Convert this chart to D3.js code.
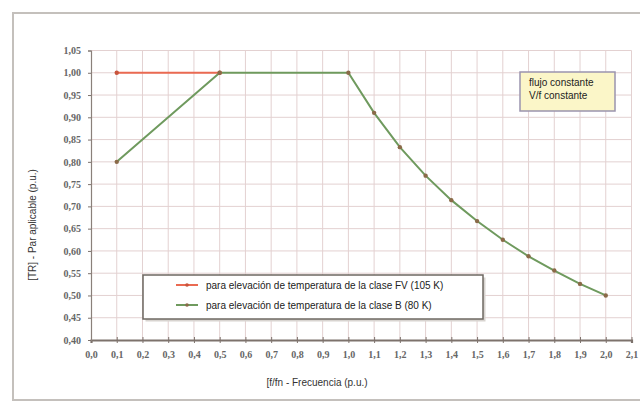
<!DOCTYPE html>
<html><head><meta charset="utf-8">
<script src="https://cdn.jsdelivr.net/npm/d3@7"></script>
<style>body{margin:0;background:#fff}svg{display:block}</style>
</head><body>
<svg id="c" width="640" height="403"></svg>
<script>
const xTicks = [0.0,0.1,0.2,0.3,0.4,0.5,0.6,0.7,0.8,0.9,1.0,1.1,1.2,1.3,1.4,1.5,1.6,1.7,1.8,1.9,2.0,2.1];
const yTicks = [0.40,0.45,0.50,0.55,0.60,0.65,0.70,0.75,0.80,0.85,0.90,0.95,1.00,1.05];
const freqFV = [0.1, 0.5];
const torqueFV = [1.00, 1.00];
const freqB = [0.1, 0.5, 1.0, 1.1, 1.2, 1.3, 1.4, 1.5, 1.6, 1.7, 1.8, 1.9, 2.0];
const torqueB = [0.80, 1.00, 1.00, 0.91, 0.833, 0.769, 0.714, 0.667, 0.625, 0.588, 0.556, 0.526, 0.50];
const seriesNames = ["para elevación de temperatura de la clase FV (105 K)", "para elevación de temperatura de la clase B (80 K)"];
const noteLines = ["flujo constante", "V/f constante"];
const xTitle = "[f/fn - Frecuencia (p.u.)";
const yTitle = "[TR] - Par aplicable (p.u.)";

const svg = d3.select("#c");
const colRed = "#ea6a52", colGreen = "#6f9a5e", colDot = "#8a6a48";

// outer frame
svg.append("rect").attr("x",13).attr("y",13).attr("width",640).attr("height",387)
  .attr("fill","#fff").attr("stroke","#c4c0bc").attr("stroke-width",2);

const x = d3.scaleLinear().domain([0,2.1]).range([91,631.5]);
const y = d3.scaleLinear().domain([0.40,1.05]).range([340,50.5]);

const fmt = d => d3.format(".1f")(d).replace(".", ",");
const fmtY = d => d3.format(".2f")(d).replace(".", ",");

// grid
const g = svg.append("g");
g.selectAll("line.v").data(xTicks.slice(1)).join("line")
  .attr("x1",d=>x(d)).attr("x2",d=>x(d)).attr("y1",y(0.40)).attr("y2",y(1.05))
  .attr("stroke","#e3d1d1").attr("stroke-width",1);
g.selectAll("line.h").data(yTicks.slice(1)).join("line")
  .attr("y1",d=>y(d)).attr("y2",d=>y(d)).attr("x1",x(0)).attr("x2",x(2.1))
  .attr("stroke","#e3d1d1").attr("stroke-width",1);

// axes
const xAxis = svg.append("g").attr("transform",`translate(0,${y(0.40)})`)
  .call(d3.axisBottom(x).tickValues(xTicks).tickFormat(fmt).tickSize(3).tickPadding(8));
xAxis.select(".domain").attr("stroke","#7d726c").attr("stroke-width",2.2);
xAxis.selectAll(".tick line").attr("stroke","#7d726c").attr("y1",-3).attr("y2",3);
xAxis.selectAll("text").attr("fill","#666").attr("font-family","Liberation Serif, serif")
  .attr("font-size",10).attr("font-weight","bold");

const yAxis = svg.append("g").attr("transform",`translate(${x(0)},0)`)
  .call(d3.axisLeft(y).tickValues(yTicks).tickFormat(fmtY).tickSize(3).tickPadding(7));
yAxis.select(".domain").attr("stroke","#8a807a").attr("stroke-width",1.2);
yAxis.selectAll(".tick line").attr("stroke","#7d726c");
yAxis.selectAll("text").attr("fill","#666").attr("font-family","Liberation Serif, serif")
  .attr("font-size",10).attr("font-weight","bold");

// lines
const line = d3.line().x(d=>x(d[0])).y(d=>y(d[1]));
const dFV = freqFV.map((f,i)=>[f,torqueFV[i]]);
const dB = freqB.map((f,i)=>[f,torqueB[i]]);
svg.append("path").datum(dFV).attr("d",line).attr("fill","none").attr("stroke",colRed).attr("stroke-width",2);
svg.append("path").datum(dB).attr("d",line).attr("fill","none").attr("stroke",colGreen).attr("stroke-width",2);
svg.selectAll("circle.fv").data(dFV).join("circle").attr("cx",d=>x(d[0])).attr("cy",d=>y(d[1])).attr("r",2.2).attr("fill","#c8543c");
svg.selectAll("circle.b").data(dB).join("circle").attr("cx",d=>x(d[0])).attr("cy",d=>y(d[1])).attr("r",2.2).attr("fill",colDot);

// note box
const nb = svg.append("g");
nb.append("rect").attr("x",520).attr("y",72).attr("width",95).attr("height",39)
  .attr("fill","#fbf6c8").attr("stroke","#9a94ae").attr("stroke-width",1.5);
nb.selectAll("text").data(noteLines).join("text").attr("x",529).attr("y",(d,i)=>86+i*12.5)
  .text(d=>d).attr("font-family","Liberation Sans, Arial, sans-serif").attr("font-size",10).attr("fill","#222");

// legend
const lg = svg.append("g");
lg.append("rect").attr("x",144).attr("y",276).attr("width",340).attr("height",44)
  .attr("fill","#d8d4d0").attr("transform","translate(1.5,1.5)");
lg.append("rect").attr("x",143).attr("y",275).attr("width",340).attr("height",44)
  .attr("fill","#fff").attr("stroke","#6e6862").attr("stroke-width",1.5);
const cols = [colRed, colGreen];
seriesNames.forEach((n,i)=>{
  const yy = 285 + i*20;
  lg.append("line").attr("x1",176).attr("x2",198).attr("y1",yy).attr("y2",yy).attr("stroke",cols[i]).attr("stroke-width",2);
  lg.append("circle").attr("cx",187).attr("cy",yy).attr("r",1.8).attr("fill",i?colDot:"#c8543c");
  lg.append("text").attr("x",206).attr("y",yy+3.5).text(n)
    .attr("font-family","Liberation Sans, Arial, sans-serif").attr("font-size",10).attr("fill","#222");
});

// titles
svg.append("text").attr("x",317).attr("y",386).attr("text-anchor","middle").text(xTitle)
  .attr("font-family","Liberation Sans, Arial, sans-serif").attr("font-size",10).attr("fill","#333");
svg.append("text").attr("transform","translate(36,225) rotate(-90)").attr("text-anchor","middle").text(yTitle)
  .attr("font-family","Liberation Sans, Arial, sans-serif").attr("font-size",10).attr("fill","#333");
</script>
</body></html>
